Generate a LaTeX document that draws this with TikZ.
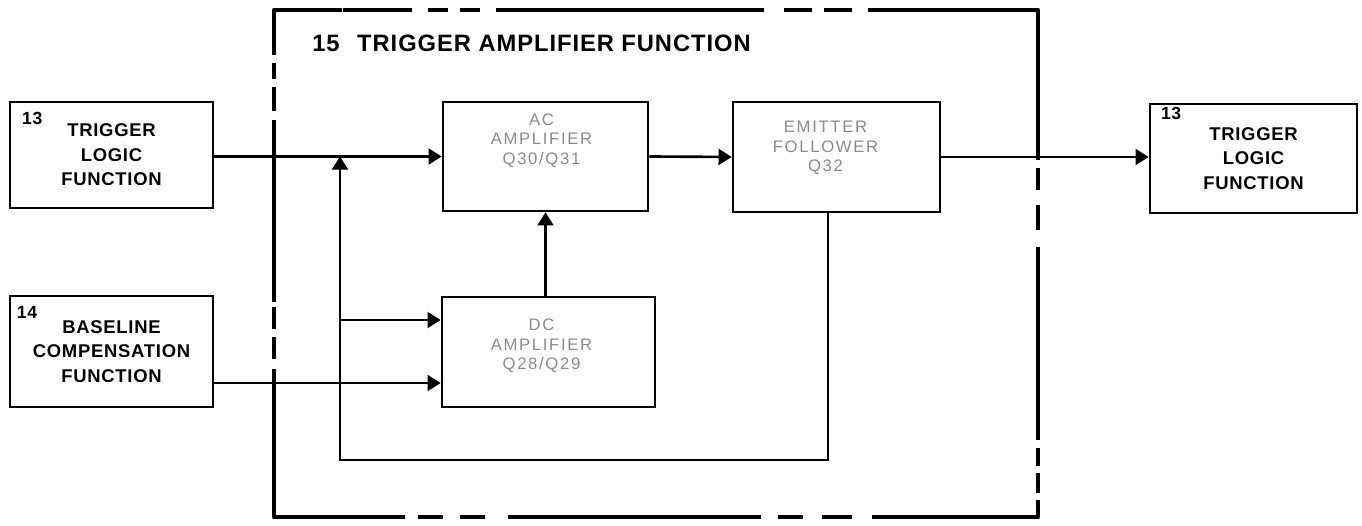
\documentclass[tikz,border=0pt]{standalone}
\usepackage{fontspec}
\setmainfont{Liberation Sans}[LetterSpace=4]
\newfontfamily\faintfont{Liberation Sans}[LetterSpace=10]
\usetikzlibrary{arrows.meta, positioning}

\begin{document}
\begin{tikzpicture}[x=0.02cm, y=-0.02cm,
  blk/.style={draw, line width=1.5pt, inner sep=0pt, align=center,
    font=\bfseries\fontsize{10.5}{13.9}\selectfont},
  faint/.style={inner sep=0pt, align=center, text=black!45,
    font=\faintfont\fontsize{9.5}{11}\selectfont},
  num/.style={inner sep=0pt, font=\bfseries\fontsize{10}{12}\selectfont},
  sig/.style={line width=1.5pt, -{Triangle[length=7.5pt,width=9pt]}},
  frame/.style={line width=2.6pt, line join=round,
    dash pattern=on 13.8mm off 3.2mm on 4mm off 2.4mm on 4mm off 3.2mm
      on 53.6mm off 4mm on 5.6mm off 2.4mm on 5.6mm off 3.2mm
      on 64mm off 1.6mm on 4.4mm off 3mm on 5mm off 3.4mm
      on 38.6mm off 1.6mm on 3.6mm off 1.4mm on 4mm off 1.4mm
      on 36.6mm off 4mm on 6mm off 3.8mm on 5mm off 3.4mm
      on 50.6mm off 4.6mm on 5mm off 3.4mm on 5mm off 2.6mm
      on 55.8mm off 2mm on 4.4mm off 1.6mm on 4.4mm off 1mm
      on 36.4mm off 1.8mm on 4.8mm off 1.6mm on 3.2mm off 1.6mm
      on 22.8mm off 2mm}]
  \useasboundingbox (0,0) rectangle (1362,526);

  % dashed function frame
  \draw[frame] (343,10) -- (1038,10) -- (1038,517) -- (274,517) -- (274,10) -- (343,10);
  \node[anchor=west, inner sep=0pt, font=\bfseries\fontsize{13.5}{16}\selectfont] (title)
    at (312,43) {15\hspace{10pt}TRIGGER AMPLIFIER FUNCTION};

  % outside functions
  \node[blk, minimum width=40.6mm, minimum height=21.2mm] (trig) at (111.5,155)
    {TRIGGER\\LOGIC\\FUNCTION};
  \node[num, below right=6.5pt and 7.4pt of trig.north west] (trig-n) {13};
  \node[blk, minimum width=40.6mm, minimum height=22.2mm] (base) at (111.5,351.5)
    {BASELINE\\COMPENSATION\\FUNCTION};
  \node[num, below right=6.2pt and 4.5pt of base.north west] (base-n) {14};
  \node[blk, minimum width=41.4mm, minimum height=21.8mm] (trigout) at (1253.5,158.5)
    {TRIGGER\\LOGIC\\FUNCTION};
  \node[num, below right=2.6pt and 6.8pt of trigout.north west] (trigout-n) {13};

  % amplifier stages
  \node[blk, minimum width=41mm, minimum height=21.8mm] (ac) at (545.5,156.5) {};
  \node[faint] (ac-t) at ([shift={(-4,-16)}]ac.center) {AC\\AMPLIFIER\\Q30/Q31};
  \node[blk, minimum width=41.4mm, minimum height=22mm] (ef) at (836.5,157) {};
  \node[faint] (ef-t) at ([shift={(-11,-9)}]ef.center) {EMITTER\\FOLLOWER\\Q32};
  \node[blk, minimum width=42.6mm, minimum height=22mm] (dc) at (548.5,352) {};
  \node[faint] (dc-t) at ([shift={(-7,-6)}]dc.center) {DC\\AMPLIFIER\\Q28/Q29};

  \coordinate (dcup) at ([yshift=6.4mm]dc.west);
  \coordinate (dclo) at ([yshift=-6.2mm]dc.west);
  \coordinate (fb) at (340,460);

  % signal path
  \draw[sig] (ac.west -| trig.east) -- (ac.west);
  \draw[sig] (ac.east) -- (ef.west);
  \draw[sig] (ef.east) -- (ef.east -| trigout.west);
  \draw[sig] (dclo -| base.east) -- (dclo);
  \draw[sig] (ac.south |- dc.north) -- (ac.south);
  % feedback from emitter follower
  \draw[sig] ([xshift=-1.7mm]ef.south) |- (fb) -- (fb |- ac.west);
  \draw[sig] (fb |- dcup) -- (dcup);
\end{tikzpicture}
\end{document}
